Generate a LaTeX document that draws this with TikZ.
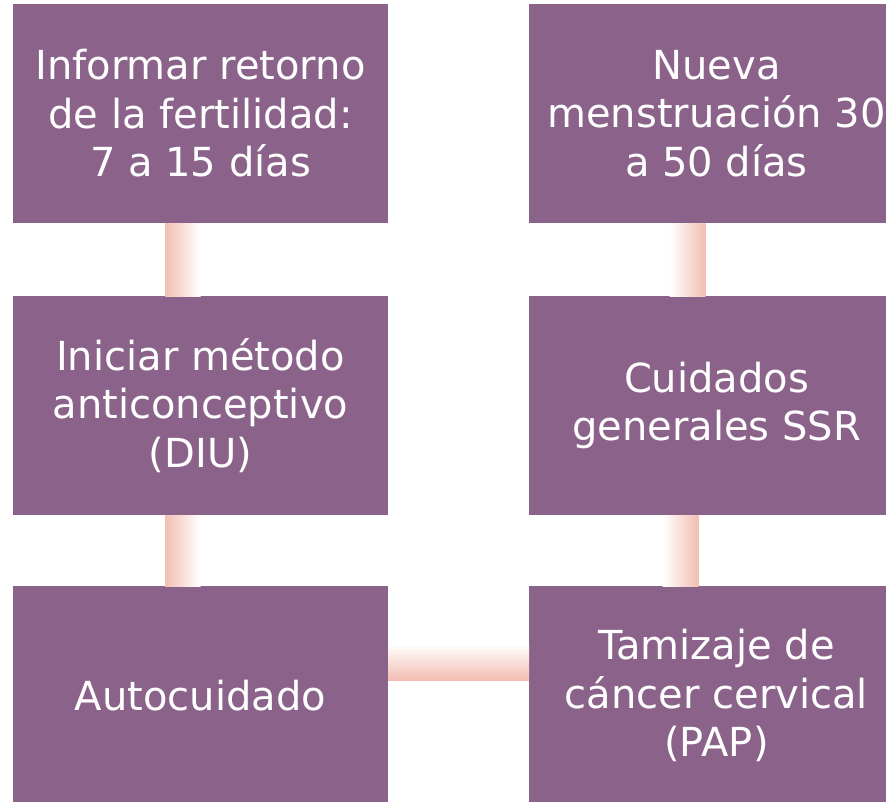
\documentclass[tikz,border=0pt]{standalone}
\usepackage{fontspec}
\setmainfont{DejaVu Sans}
\usepackage{xcolor}
\usetikzlibrary{positioning}
\definecolor{boxpurple}{RGB}{139,99,138}
\definecolor{link}{RGB}{242,190,178}
\tikzset{
  box/.style={fill=boxpurple, text=white, minimum width=375pt, minimum height=219pt,
    inner sep=0pt, outer sep=0pt, align=center, font=\fontsize{40}{48.5}\selectfont},
}
\begin{document}
\begin{tikzpicture}[x=1pt, y=-1pt]
      %\draw [dotted] (0,0) grid[step=50] (886,801);
      \useasboundingbox (0,0) rectangle (886,801);
      \clip (0,0) rectangle (886,801);
      \node [box]  (inf) at (200.5, 113.5) {Informar retorno\\de la fertilidad:\\7 a 15 días};
      \node [box]  (diu) at (200.5, 405.5) {Iniciar método\\anticonceptivo\\(DIU)};
      \node [box] (auto) at (200.5, 695.5) {Autocuidado};
      \node [box]  (nue) at (716.5, 113.5) {Nueva\\menstruación 30\\a 50 días};
      \node [box]  (ssr) at (716.5, 405.5) {Cuidados\\generales SSR};
      \node [box]  (pap) at (716.5, 695.5) {Tamizaje de\\cáncer cervical\\(PAP)};
      \shade [left color=link, right color=white] ([xshift=-35.5pt]inf.south) rectangle (diu.north);
      \shade [left color=link, right color=white] ([xshift=-35.5pt]diu.south) rectangle (auto.north);
      \shade [top color=white, bottom color=link] ([yshift=51.5pt]auto.east) rectangle ([yshift=15.5pt]pap.west);
      \shade [left color=white, right color=link] ([xshift=-54pt]pap.north) rectangle ([xshift=-18pt]ssr.south);
      \shade [left color=white, right color=link] ([xshift=-47pt]ssr.north) rectangle ([xshift=-11pt]nue.south);
\end{tikzpicture}
\end{document}
